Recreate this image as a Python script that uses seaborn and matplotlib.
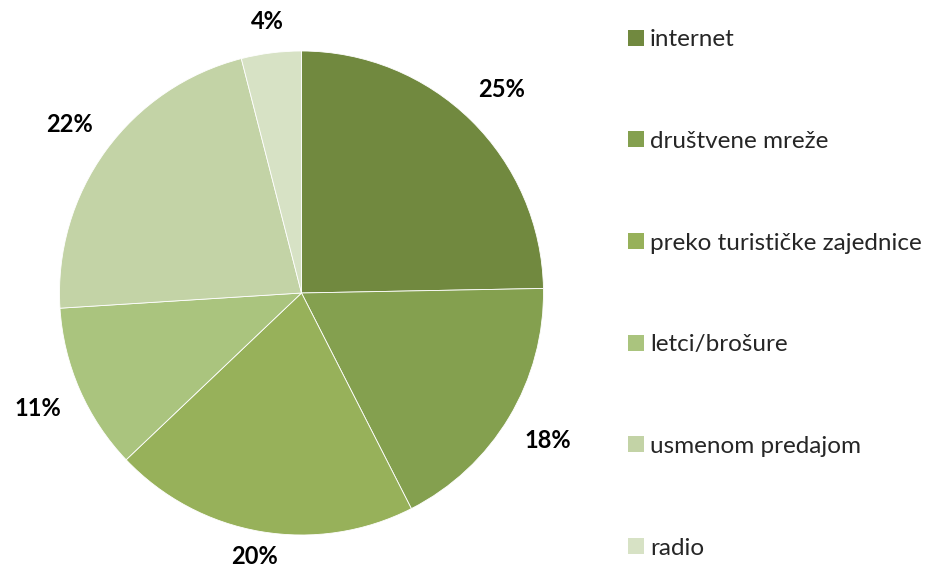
import numpy as np
import matplotlib.pyplot as plt
import seaborn as sns
from matplotlib.patches import Patch

# %%
categories = [
    "internet",
    "društvene mreže",
    "preko turističke zajednice",
    "letci/brošure",
    "usmenom predajom",
    "radio",
]
shares = [24.7, 17.8, 20.4, 11.1, 22.0, 4.0]
colors = ["#71893F", "#84A04F", "#97B15A", "#AAC47E", "#C3D3A6", "#D7E2C5"]

# %%
sns.set_theme(style="white")
plt.rcParams["font.family"] = ["Lato", "DejaVu Sans"]

fig = plt.figure(figsize=(9.29, 5.71), dpi=100)
W, H = 929, 571
cx, cy, rad = 301.5, 278, 242
ax = fig.add_axes([(cx - rad) / W, (cy - rad) / H, 2 * rad / W, 2 * rad / H])

wedges, _ = ax.pie(
    shares,
    colors=colors,
    startangle=90,
    counterclock=False,
    radius=1,
    wedgeprops=dict(edgecolor="white", linewidth=0.6),
)
ax.set_xlim(-1, 1)
ax.set_ylim(-1, 1)
ax.set_aspect("equal")
ax.axis("off")

# labels placed just outside the slice edge, like "outside end"
y_min = -(cy - 14) / rad  # keep the bottom label inside the figure
for w, v in zip(wedges, shares):
    mid = np.deg2rad((w.theta1 + w.theta2) / 2)
    lab = f"{round(v)}%"
    half_w = (7.5 * len(lab)) / rad
    half_h = 8 / rad
    r = 1 + 0.09 + half_w * abs(np.cos(mid)) + half_h * abs(np.sin(mid))
    ax.text(r * np.cos(mid), max(r * np.sin(mid), y_min), lab, ha="center", va="center",
            fontsize=17, fontweight="bold", color="black", clip_on=False)

handles = [Patch(facecolor=c, edgecolor="none", label=l) for c, l in zip(colors, categories)]
fig.legend(
    handles=handles,
    loc="upper left",
    bbox_to_anchor=(616 / W, 1 - 17 / H),
    frameon=False,
    fontsize=17.5,
    handlelength=0.64,
    handleheight=0.64,
    handletextpad=0.25,
    labelspacing=3.32,
    borderpad=0,
)

plt.savefig("out.png", dpi=100)
